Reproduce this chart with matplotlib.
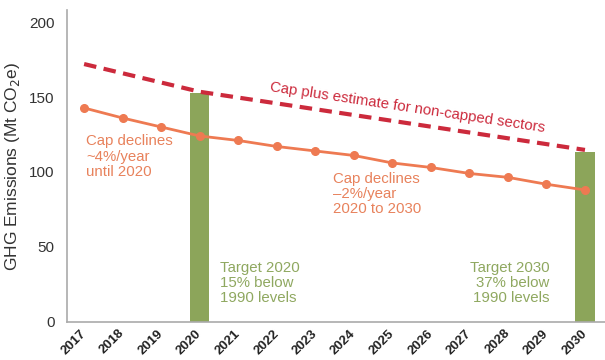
import matplotlib
matplotlib.use("Agg")
import matplotlib.pyplot as plt

plt.rcParams['font.family'] = ['Liberation Sans', 'DejaVu Sans']

years = [2017, 2018, 2019, 2020, 2021, 2022, 2023, 2024, 2025, 2026, 2027, 2028, 2029, 2030]
cap = [142.7, 136.0, 130.0, 124.0, 121.0, 117.0, 114.0, 111.0, 106.0, 103.0, 99.0, 96.4, 91.8, 88.0]
est_years = [2017, 2020, 2030]
est_values = [172.0, 153.5, 114.7]
target_years = [2020, 2030]
target_values = [152.7, 113.0]
year_labels = [str(y) for y in years]

ORANGE = '#EE7A52'
RED = '#CC2A3C'
GREEN = '#8CA55A'
GREEN_TXT = '#8FA860'
ORANGE_TXT = '#E8825C'

fig = plt.figure(figsize=(6.05, 3.6), dpi=100)
ax = fig.add_axes([0.111, 0.106, 0.889, 0.866])

ax.bar(target_years, target_values, width=0.5, color=GREEN, zorder=1)
ax.plot(years, cap, color=ORANGE, lw=2, marker='o', ms=5.5, zorder=3)
ax.plot(est_years, est_values, color=RED, lw=3, dashes=(3.0, 1.8), zorder=4)

ax.set_xlim(2016.56, 2030.52)
ax.set_ylim(0, 208)
ax.set_yticks([0, 50, 100, 150, 200])
ax.set_xticks(years)
ax.set_xticklabels(year_labels, rotation=45, ha='right', va='center',
                   rotation_mode='anchor', fontsize=9.5, color='#222222',
                   fontweight='bold')
ax.tick_params(axis='x', length=0, pad=7)
ax.tick_params(axis='y', length=0, pad=9, labelsize=11, labelcolor='#333333')
for s in ['top', 'right']:
    ax.spines[s].set_visible(False)
for s in ['left', 'bottom']:
    ax.spines[s].set_color('#aaaaaa')
    ax.spines[s].set_linewidth(1.2)

ax.set_ylabel('GHG Emissions (Mt CO$_2$e)', fontsize=12.5, color='#333333', labelpad=5)

ax.text(2017.05, 125, 'Cap declines\n~4%/year\nuntil 2020', color=ORANGE_TXT,
        fontsize=10.8, va='top', ha='left', linespacing=1.1)
ax.text(2023.47, 100, 'Cap declines\n\u20132%/year\n2020 to 2030', color=ORANGE_TXT,
        fontsize=10.8, va='top', ha='left', linespacing=1.1)
ax.text(2025.4, 143, 'Cap plus estimate for non-capped sectors', color=RED,
        fontsize=10.8, rotation=-8.5, ha='center', va='center', rotation_mode='anchor')
ax.text(2020.53, 40.5, 'Target 2020\n15% below\n1990 levels', color=GREEN_TXT,
        fontsize=10.8, va='top', ha='left', linespacing=1.1)
ax.text(2029.08, 40.5, 'Target 2030\n37% below\n1990 levels', color=GREEN_TXT,
        fontsize=10.8, va='top', ha='right', linespacing=1.1, multialignment='right')

fig.savefig('out.png', dpi=100)
